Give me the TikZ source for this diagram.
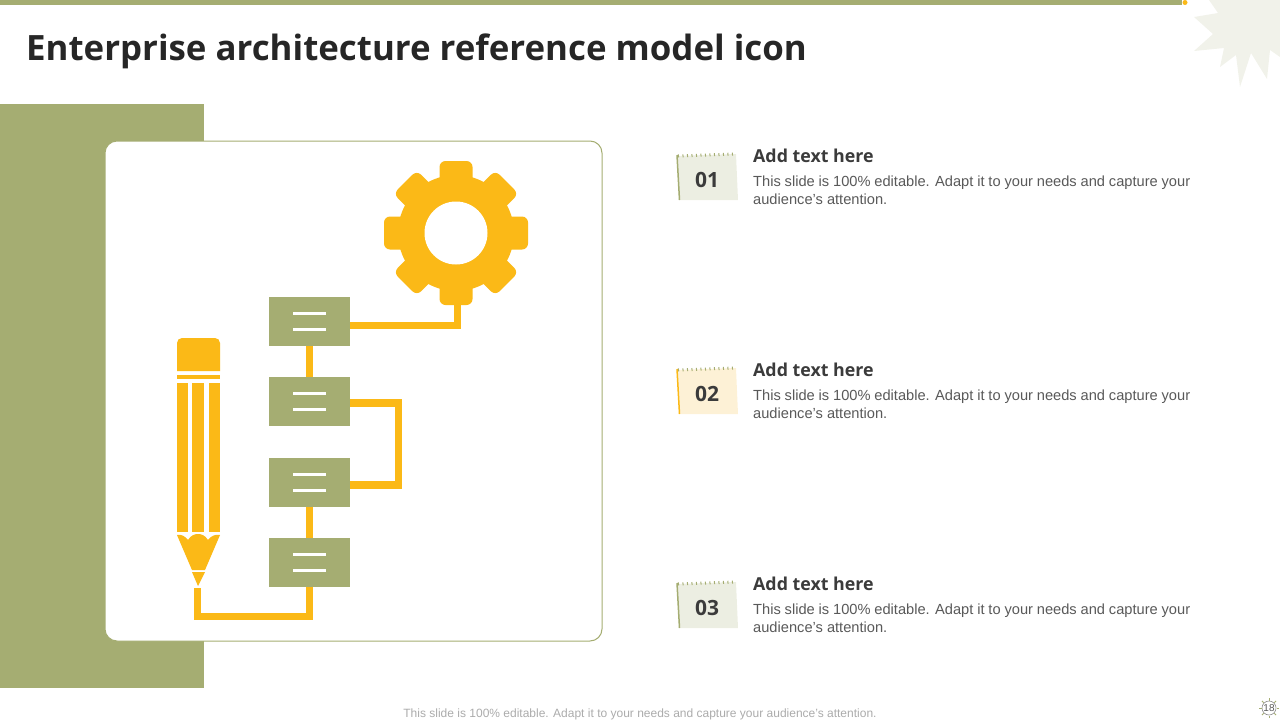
\documentclass[tikz,border=0pt]{standalone}
\usepackage{fontspec}
\usetikzlibrary{positioning}
\setmainfont{Liberation Sans}
\newfontfamily\headfont{Open Sans}
\definecolor{olive}{HTML}{A5AD72}
\definecolor{amber}{HTML}{FBB917}
\definecolor{palestar}{HTML}{F1F2EA}
\definecolor{inkdark}{HTML}{262626}
\definecolor{inktext}{HTML}{595959}
\definecolor{inkhead}{HTML}{3B3B3B}
\tikzset{
  listbox/.style={fill=olive,minimum width=81pt,minimum height=49pt,inner sep=0pt},
  barline/.style={draw=white,line width=3pt},
  wire/.style={draw=amber,line width=7.5pt},
  amberfill/.style={fill=amber},
  headtext/.style={font=\headfont\bfseries\fontsize{17.8}{22}\selectfont,text=inkhead,anchor=west,inner sep=0pt},
  bodytext/.style={font=\fontsize{14.65}{18}\selectfont,text=inktext,anchor=north west,inner sep=0pt,text width=437pt,align=justify},
  numtext/.style={font=\headfont\bfseries\fontsize{21}{25}\selectfont,text=inkhead,inner sep=0pt}
}
\begin{document}
\begin{tikzpicture}[x=1pt,y=-1pt]
\useasboundingbox (0,0) rectangle (1280,720);
% top of the slide
\fill[palestar] (1194,17) -- (1218,13) -- (1209,0) -- (1280,0) -- (1280,57) -- (1270,50) -- (1267,79) -- (1251,53) -- (1240,87) -- (1236,55) -- (1220,67) -- (1224,48) -- (1194,51) -- (1213,34) -- cycle;
\fill[olive] (0,0) rectangle (1182,5);
\fill[amber] (1185,2.5) circle (2.5);
\node[font=\headfont\bfseries\fontsize{34.85}{40}\selectfont,text=inkdark,anchor=west,inner sep=0pt] (title) at (26,51) {Enterprise architecture reference model icon};
% panel and card
\fill[olive] (0,104) rectangle (204,688);
\draw[olive,fill=white,rounded corners=12pt,line width=1pt] (105,141) rectangle (602,641);
% the gear
\node[circle,amberfill,minimum size=116pt,inner sep=0pt] (gear) at (456,233) {};
\foreach \a in {0,45,...,315}
  \fill[amber,rounded corners=6pt,rotate around={\a:(gear.center)}] (439.5,161) rectangle (472.5,233);
% the four boxes
\node[listbox] (boxa) at (309.5,321.5) {};
\node[listbox,below=31pt of boxa] (boxb) {};
\node[listbox,below=31pt of boxb] (boxc) {};
\node[listbox,below=31pt of boxc] (boxd) {};
\coordinate (pencilend) at (197.5,588);
% connectors
\draw[wire] ([yshift=-4pt]boxa.east) -| ([xshift=1.5pt]gear.south);
\draw[wire] (boxa) -- (boxb);
\draw[wire] (boxc) -- (boxd);
\draw[wire] ([yshift=-1pt]boxb.east) -- ++(48.5,0) |- ([yshift=-2.5pt]boxc.east);
\draw[wire] (boxd.south) |- ++(0,29) -| (pencilend);
\fill[white] (gear.center) circle (31.5);
\foreach \b in {boxa,boxb,boxc,boxd} {
  \draw[barline] ([xshift=-16.5pt,yshift=8pt]\b.center) -- ++(33,0);
  \draw[barline] ([xshift=-16.5pt,yshift=-8pt]\b.center) -- ++(33,0);
}
% the pencil
\fill[amber] (177,371) [rounded corners=5pt] -- (177,338) -- (220,338) [sharp corners] -- (220,371) -- cycle;
\fill[amber] (177,375) rectangle (220,379);
\fill[amber] (177,383) rectangle (188,532);
\fill[amber] (192,383) rectangle (204,532);
\fill[amber] (209,383) rectangle (220,532);
\fill[amber] (177,535) .. controls (181,534) and (185,536) .. (188,540) .. controls (191,535) and (195,534) .. (198,534) .. controls (201,534) and (205,535) .. (208,540) .. controls (211,536) and (215,534) .. (220,535) -- (205,570) -- (192,570) -- cycle;
\fill[amber] (192,572) -- (205,572) -- (198,586) -- cycle;
% the three notes
\foreach \y/\n/\notefill/\noteedge in {0/01/ECEEE2/olive,214/02/FDF1D6/amber,428/03/ECEEE2/olive} {
  \definecolor{notefillc}{HTML}{\notefill}
  \begin{scope}[yshift=-\y pt]
    \fill[notefillc] (677,156) -- (736,154) -- (738,200) -- (679,200) -- cycle;
    \draw[\noteedge,line width=1.5pt] (677,155) -- (679.5,200);
    \draw[olive,line width=3pt,dash pattern=on 1pt off 3.5pt] (678,156) -- (735,154);
    \node[numtext] (num\n) at (707,180) {\n};
    \node[headtext] (head\n) at (753,155.5) {Add text here};
    \node[bodytext] (body\n) at (753,175.5) {This slide is 100\% editable. Adapt it to your needs and capture your audience's attention.};
  \end{scope}
}
% foot of the slide
\node[font=\fontsize{12}{14}\selectfont,text=black!33,inner sep=0pt] (foot) at (640,714) {This slide is 100\% editable. Adapt it to your needs and capture your audience's attention.};
\node[circle,draw=black!45,line width=0.6pt,minimum size=14pt,inner sep=0pt,font=\fontsize{10}{12}\selectfont,text=black!65] (pagenum) at (1269,708) {18};
\foreach \a in {0,45,...,315}
  \draw[olive,line width=1pt,rotate around={\a:(pagenum.center)}] (1269,698) -- (1269,700.5);
\end{tikzpicture}
\end{document}
